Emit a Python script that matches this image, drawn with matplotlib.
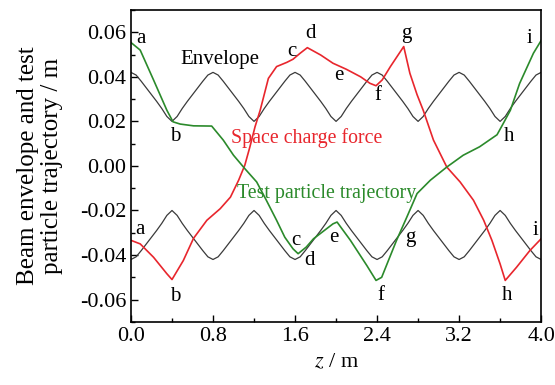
import numpy as np
import matplotlib
matplotlib.use("Agg")
import matplotlib.pyplot as plt
from matplotlib.ticker import MultipleLocator, FormatStrFormatter

# огибающая пучка, шаг 0.05 м (0..4 м)
env_z = np.linspace(0.0, 4.0, 81)
env_upper = [
    0.0420, 0.0408, 0.0380, 0.0350, 0.0320, 0.0290, 0.0258, 0.0222, 0.0200, 0.0222, 0.0258, 0.0290, 0.0320, 0.0350, 0.0380, 0.0408,
    0.0420, 0.0408, 0.0380, 0.0350, 0.0320, 0.0290, 0.0258, 0.0222, 0.0200, 0.0222, 0.0258, 0.0290, 0.0320, 0.0350, 0.0380, 0.0408,
    0.0420, 0.0408, 0.0380, 0.0350, 0.0320, 0.0290, 0.0258, 0.0222, 0.0200, 0.0222, 0.0258, 0.0290, 0.0320, 0.0350, 0.0380, 0.0408,
    0.0420, 0.0408, 0.0380, 0.0350, 0.0320, 0.0290, 0.0258, 0.0222, 0.0200, 0.0222, 0.0258, 0.0290, 0.0320, 0.0350, 0.0380, 0.0408,
    0.0420, 0.0408, 0.0380, 0.0350, 0.0320, 0.0290, 0.0258, 0.0222, 0.0200, 0.0222, 0.0258, 0.0290, 0.0320, 0.0350, 0.0380, 0.0408,
    0.0420,
]
env_lower = [
    -0.0420, -0.0408, -0.0380, -0.0350, -0.0320, -0.0290, -0.0258, -0.0222, -0.0200, -0.0222, -0.0258, -0.0290, -0.0320, -0.0350, -0.0380, -0.0408,
    -0.0420, -0.0408, -0.0380, -0.0350, -0.0320, -0.0290, -0.0258, -0.0222, -0.0200, -0.0222, -0.0258, -0.0290, -0.0320, -0.0350, -0.0380, -0.0408,
    -0.0420, -0.0408, -0.0380, -0.0350, -0.0320, -0.0290, -0.0258, -0.0222, -0.0200, -0.0222, -0.0258, -0.0290, -0.0320, -0.0350, -0.0380, -0.0408,
    -0.0420, -0.0408, -0.0380, -0.0350, -0.0320, -0.0290, -0.0258, -0.0222, -0.0200, -0.0222, -0.0258, -0.0290, -0.0320, -0.0350, -0.0380, -0.0408,
    -0.0420, -0.0408, -0.0380, -0.0350, -0.0320, -0.0290, -0.0258, -0.0222, -0.0200, -0.0222, -0.0258, -0.0290, -0.0320, -0.0350, -0.0380, -0.0408,
    -0.0420,
]

# траектория с учётом пространственного заряда (красная)
sc_z = [0.00, 0.09, 0.22, 0.35, 0.40, 0.51, 0.61, 0.74, 0.87, 0.97, 1.05, 1.11, 1.16, 1.21,
        1.26, 1.34, 1.42, 1.52, 1.58, 1.65, 1.72, 1.85, 1.97, 2.10, 2.24, 2.33, 2.39, 2.45,
        2.53, 2.66, 2.72, 2.79, 2.85, 2.95, 3.08, 3.21, 3.34, 3.44, 3.52, 3.60, 3.65, 3.76,
        3.89, 4.00]
sc_y = [-0.0334, -0.0350, -0.0410, -0.0484, -0.0510, -0.0425, -0.0325, -0.0244, -0.0192,
        -0.0140, -0.0064, 0.0003, 0.0086, 0.0176, 0.0250, 0.0393, 0.0446, 0.0465, 0.0479,
        0.0506, 0.0531, 0.0498, 0.0461, 0.0434, 0.0400, 0.0371, 0.0360, 0.0386, 0.0446,
        0.0536, 0.0416, 0.0320, 0.0250, 0.0116, -0.0005, -0.0072, -0.0154, -0.0244, -0.0334,
        -0.0440, -0.0514, -0.0455, -0.0380, -0.0327]

# траектория пробной частицы (зелёная)
tp_z = [0.00, 0.09, 0.22, 0.35, 0.41, 0.48, 0.61, 0.787, 0.90, 1.00, 1.11, 1.226, 1.32, 1.42,
        1.50, 1.58, 1.63, 1.71, 1.78, 1.97, 2.01, 2.14, 2.30, 2.39, 2.445, 2.59, 2.69, 2.79,
        2.92, 3.08, 3.24, 3.40, 3.57, 3.63, 3.70, 3.79, 3.925, 4.00]
tp_y = [0.0554, 0.0520, 0.0386, 0.0250, 0.0198, 0.0188, 0.0180, 0.0179, 0.0116, 0.0048,
        -0.0012, -0.0072, -0.0154, -0.0244, -0.0320, -0.0372, -0.0394, -0.0364, -0.0327,
        -0.0260, -0.0252, -0.0334, -0.0447, -0.0514, -0.0500, -0.0334, -0.0230, -0.0124,
        -0.0064, -0.0005, 0.0048, 0.0086, 0.0140, 0.0190, 0.0250, 0.0370, 0.0506, 0.0563]

# буквенные метки точек
upper_marks = ["a", "b", "c", "d", "e", "f", "g", "h", "i"]
upper_mz = [0.10, 0.43, 1.57, 1.75, 2.03, 2.41, 2.69, 3.69, 3.89]
upper_my = [0.0574, 0.0131, 0.0513, 0.0596, 0.0404, 0.0315, 0.0596, 0.0131, 0.0573]
lower_marks = ["a", "b", "c", "d", "e", "f", "g", "h", "i"]
lower_mz = [0.088, 0.43, 1.61, 1.74, 1.98, 2.44, 2.72, 3.67, 3.94]
lower_my = [-0.0286, -0.0586, -0.0334, -0.0424, -0.0320, -0.0582, -0.0320, -0.0582, -0.0290]

plt.rcParams["font.family"] = ["Liberation Serif", "DejaVu Serif"]
plt.rcParams["mathtext.fontset"] = "stix"
plt.rcParams["axes.unicode_minus"] = False

RED = "#e8262d"
GREEN = "#2b8a2b"
GRAY = "#3a3a3a"
FS = 15

fig = plt.figure(figsize=(5.55, 3.85), dpi=100)
ax = fig.add_axes([0.236, 0.164, 0.739, 0.810])

ax.plot(env_z, env_upper, color=GRAY, lw=0.9)
ax.plot(env_z, env_lower, color=GRAY, lw=0.9)
ax.plot(sc_z, sc_y, color=RED, lw=1.2)
ax.plot(tp_z, tp_y, color=GREEN, lw=1.2)

for m, z, y in zip(upper_marks, upper_mz, upper_my):
    ax.text(z, y, m, fontsize=FS, ha="center", va="center")
for m, z, y in zip(lower_marks, lower_mz, lower_my):
    ax.text(z, y, m, fontsize=FS, ha="center", va="center")

ax.text(0.87, 0.0476, "Envelope", fontsize=FS, ha="center", va="center")
ax.text(1.71, 0.0125, "Space charge force", fontsize=14.3, color=RED, ha="center", va="center")
ax.text(1.91, -0.0124, "Test particle trajectory", fontsize=14.3, color=GREEN, ha="center", va="center")

ax.set_xlim(0.0, 4.0)
ax.set_ylim(-0.07, 0.07)
ax.xaxis.set_major_locator(MultipleLocator(0.8))
ax.xaxis.set_minor_locator(MultipleLocator(0.4))
ax.yaxis.set_major_locator(MultipleLocator(0.02))
ax.yaxis.set_minor_locator(MultipleLocator(0.01))
ax.xaxis.set_major_formatter(FormatStrFormatter("%.1f"))
ax.yaxis.set_major_formatter(FormatStrFormatter("%.2f"))
ax.tick_params(which="both", direction="in", top=False, right=False, labelsize=16, width=1.0)
ax.tick_params(which="major", length=5)
ax.tick_params(which="minor", length=3)
for s in ax.spines.values():
    s.set_linewidth(1.2)

ax.set_xlabel("$z$ / m", fontsize=16, labelpad=5)
ax.set_ylabel("Beam envelope and test\nparticle trajectory / m", fontsize=18, labelpad=12,
              linespacing=1.1)

fig.savefig("out.png", dpi=100)
